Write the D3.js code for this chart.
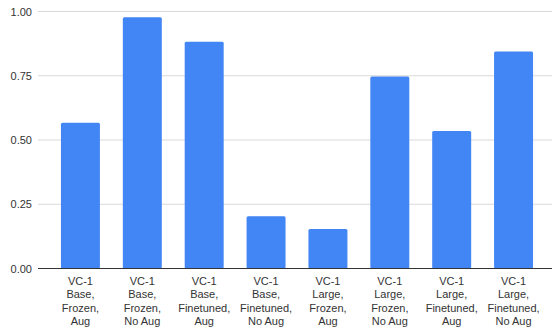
<!DOCTYPE html>
<html>
<head>
<meta charset="utf-8">
<script src="https://cdn.jsdelivr.net/npm/d3@7"></script>
<style>
  body { margin: 0; background: #fff; }
  text { font-family: "Liberation Sans", Arial, sans-serif; font-size: 11px; fill: #333; }
</style>
</head>
<body>
<script>
// data
const categories = [
  ['VC-1', 'Base,', 'Frozen,', 'Aug'],
  ['VC-1', 'Base,', 'Frozen,', 'No Aug'],
  ['VC-1', 'Base,', 'Finetuned,', 'Aug'],
  ['VC-1', 'Base,', 'Finetuned,', 'No Aug'],
  ['VC-1', 'Large,', 'Frozen,', 'Aug'],
  ['VC-1', 'Large,', 'Frozen,', 'No Aug'],
  ['VC-1', 'Large,', 'Finetuned,', 'Aug'],
  ['VC-1', 'Large,', 'Finetuned,', 'No Aug']
];
const values = [0.567, 0.978, 0.882, 0.203, 0.154, 0.747, 0.535, 0.844];
const yTicks = [0, 0.25, 0.5, 0.75, 1];

const width = 553, height = 329;
const svg = d3.select('body').append('svg').attr('width', width).attr('height', height);

const x = d3.scaleBand()
  .domain(d3.range(values.length))
  .range([49.5, 544.5])
  .paddingInner(0.37)
  .paddingOuter(0.185);

const y = d3.scaleLinear().domain([0, 1]).range([268.5, 11.5]);

// gridlines
svg.append('g')
  .selectAll('line')
  .data(yTicks.slice(1))
  .join('line')
  .attr('x1', 38).attr('x2', 552)
  .attr('y1', d => y(d)).attr('y2', d => y(d))
  .attr('stroke', '#d9d9d9').attr('stroke-width', 1);

// y labels
svg.append('g')
  .selectAll('text')
  .data(yTicks)
  .join('text')
  .attr('x', 32)
  .attr('y', d => y(d) + 4)
  .attr('text-anchor', 'end')
  .text(d => d3.format('.2f')(d));

// bars
svg.append('g')
  .selectAll('rect')
  .data(values)
  .join('rect')
  .attr('x', (d, i) => x(i))
  .attr('width', x.bandwidth())
  .attr('y', d => y(d))
  .attr('height', d => y(0) - y(d))
  .attr('rx', 1.5)
  .attr('fill', '#4285f4');

// baseline
svg.append('line')
  .attr('x1', 38).attr('x2', 552)
  .attr('y1', y(0)).attr('y2', y(0))
  .attr('stroke', '#333').attr('stroke-width', 1);

// x labels
const xl = svg.append('g')
  .selectAll('text')
  .data(categories)
  .join('text')
  .attr('text-anchor', 'middle')
  .attr('transform', (d, i) => `translate(${x(i) + x.bandwidth() / 2},285)`);
xl.selectAll('tspan')
  .data(d => d)
  .join('tspan')
  .attr('x', 0)
  .attr('y', (d, i) => i * 13.4)
  .text(d => d);
</script>
</body>
</html>
